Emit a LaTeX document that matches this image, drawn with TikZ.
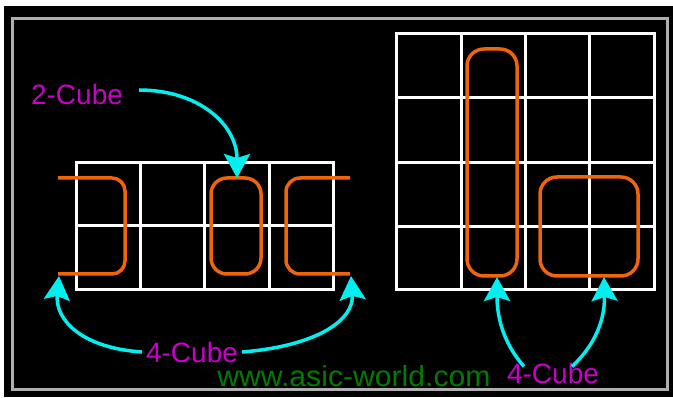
\documentclass[tikz,border=0pt]{standalone}
\usepackage{fontspec}
\setmainfont{Liberation Sans}
\usetikzlibrary{arrows.meta}
\definecolor{cubeorange}{RGB}{240,100,10}
\definecolor{cubecyan}{RGB}{0,240,240}
\definecolor{cubemag}{RGB}{200,0,200}
\definecolor{urlgreen}{RGB}{0,125,0}
\definecolor{framegray}{RGB}{175,175,175}
\begin{document}
\begin{tikzpicture}[x=1pt,y=-1pt,
  gridline/.style={white,line width=3pt},
  cubeloop/.style={cubeorange,line width=3.5pt},
  pointer/.style={cubecyan,line width=3.5pt,-{Stealth[length=24pt,width=26pt,inset=4pt]}},
  cubetext/.style={text=cubemag,font=\fontsize{28}{28}\selectfont,inner ysep=0pt}]
\useasboundingbox (0,0) rectangle (673,398);
\fill[white] (0,0) rectangle (673,398);
\fill[black] (4,6) rectangle (673,397);
\draw[framegray,line width=3pt] (12,19) rectangle (667,390);
% left grid
\draw[gridline] (76,163) rectangle (333,290);
\draw[gridline] (76,226) -- (333,226);
\foreach \x in {140,204,269} \draw[gridline] (\x,163) -- (\x,290);
% right grid
\draw[gridline] (396,34) rectangle (654,290);
\foreach \y in {98,163,227} \draw[gridline] (396,\y) -- (654,\y);
\foreach \x in {461,525,589} \draw[gridline] (\x,34) -- (\x,290);
% orange loops
\draw[cubeloop,rounded corners=13pt] (58,178) -| (125,274) -- (58,274);
\draw[cubeloop,rounded corners=16pt] (211,178) rectangle (261,274);
\draw[cubeloop,rounded corners=14pt] (350,178) -| (286,274) -- (350,274);
\draw[cubeloop,rounded corners=17pt] (467,49) rectangle (517,276);
\draw[cubeloop,rounded corners=17pt] (540,177) rectangle (638,276);
% arrow tips
\coordinate (tipA) at (237,178);
\coordinate (tipB) at (59,276);
\coordinate (tipC) at (351,276);
\coordinate (tipD) at (497,277);
\coordinate (tipE) at (604,277);
% labels
\node[cubetext,inner xsep=16pt] (twocube) at (77,94) {2-Cube};
\node[cubetext,inner xsep=4pt] (fourL) at (192,352) {4-Cube};
\node[cubetext,inner xsep=0pt] (fourR) at (553,373) {4-Cube};
\node[text=urlgreen,font=\fontsize{29}{29}\selectfont,inner sep=0pt] (url) at (354,376) {\scalebox{1.04}[1]{www.asic-world.com}};
% arrows
\draw[pointer] ([yshift=4pt]twocube.east) .. controls +(60,0) and (237,125) .. (tipA);
\draw[pointer] (fourL.west) .. controls +(-60,-4) and (55,320) .. (tipB);
\draw[pointer] (fourL.east) .. controls +(75,-6) and (354,320) .. (tipC);
\draw[pointer] ([xshift=-29pt,yshift=-4pt]fourR.north) .. controls (505,345) and (497,320) .. (tipD);
\draw[pointer] ([xshift=19pt,yshift=-4pt]fourR.north) .. controls (595,345) and (605,320) .. (tipE);
\end{tikzpicture}
\end{document}
